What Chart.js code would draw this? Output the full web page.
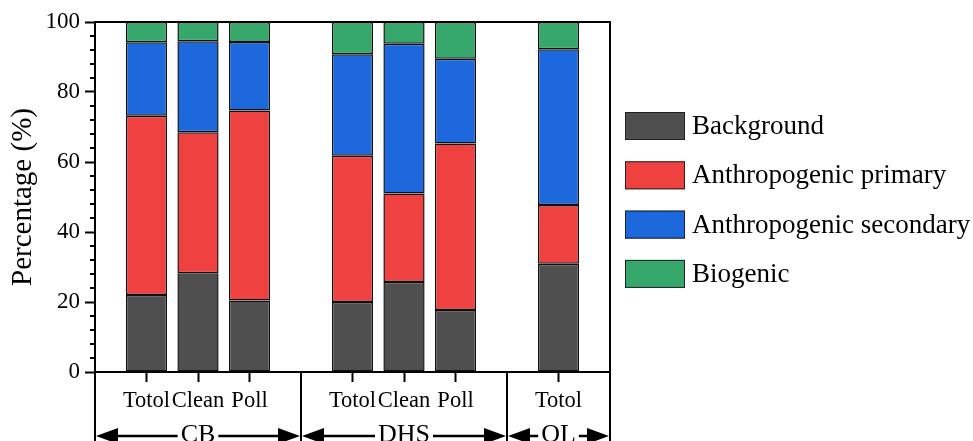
<!DOCTYPE html>
<html>
<head>
<meta charset="utf-8">
<script src="https://cdn.jsdelivr.net/npm/chart.js@4"></script>
<style>
  body { margin: 0; background: #fff; }
  #wrap { width: 973px; height: 441px; }
</style>
</head>
<body>
<div id="wrap"><canvas id="myChart"></canvas></div>
<script>
// groups and their sub-categories
const groupNames = ['CB', 'DHS', 'QL'];
const groupCats = [['Totol', 'Clean', 'Poll'], ['Totol', 'Clean', 'Poll'], ['Totol']];
const seriesNames = ['Background', 'Anthropogenic primary', 'Anthropogenic secondary', 'Biogenic'];

// percentages, one value per bar (CB x3, DHS x3, QL x1)
const background = [22.0, 28.2, 20.4, 20.0, 25.7, 17.7, 30.9];
const primary    = [51.2, 40.3, 54.3, 41.8, 25.3, 47.6, 16.8];
const secondary  = [21.0, 26.0, 19.6, 29.0, 42.8, 24.2, 44.5];
const biogenic   = [5.8, 5.5, 5.7, 9.2, 6.2, 10.5, 7.8];

const yTicks = [0, 20, 40, 60, 80, 100];

const SERIF = "'Liberation Serif', 'Times New Roman', serif";
const colors = ['#4f4f4f', '#f04141', '#1c68dc', '#36a86b'];

// blank slots between groups
const labels = [''];
const groupEdges = [0];
groupCats.forEach(cats => {
  labels.push(...cats, '');
  groupEdges.push(labels.length - 1);
});

function spread(values) {
  let k = 0;
  return labels.map(l => (l === '' ? null : values[k++]));
}

const decor = {
  id: 'decor',
  afterDraw(chart) {
    const { ctx, chartArea: a, scales: { x, y } } = chart;
    ctx.save();
    ctx.strokeStyle = '#000';
    ctx.fillStyle = '#000';
    ctx.lineWidth = 2;

    // top + right frame
    ctx.beginPath();
    ctx.moveTo(a.left, a.top);
    ctx.lineTo(a.right, a.top);
    ctx.lineTo(a.right, chart.height);
    ctx.stroke();

    // group dividers below the axis
    groupEdges.forEach(i => {
      const px = x.getPixelForValue(i);
      ctx.beginPath();
      ctx.moveTo(px, a.bottom);
      ctx.lineTo(px, chart.height);
      ctx.stroke();
    });

    // minor y ticks
    for (let v = 4; v < 100; v += 4) {
      if (v % 20 === 0) continue;
      const py = y.getPixelForValue(v);
      ctx.beginPath();
      ctx.moveTo(a.left - 5, py);
      ctx.lineTo(a.left, py);
      ctx.stroke();
    }

    // group arrows
    ctx.font = '26px ' + SERIF;
    ctx.textAlign = 'center';
    ctx.textBaseline = 'alphabetic';
    const ay = 436;
    groupNames.forEach((name, g) => {
      const x0 = x.getPixelForValue(groupEdges[g]) + 1;
      const x1 = x.getPixelForValue(groupEdges[g + 1]) - 1;
      const mid = (x0 + x1) / 2;
      const half = ctx.measureText(name).width / 2 + 3;
      ctx.lineWidth = 2.5;
      ctx.beginPath();
      ctx.moveTo(x0 + 20, ay); ctx.lineTo(mid - half, ay);
      ctx.moveTo(mid + half, ay); ctx.lineTo(x1 - 20, ay);
      ctx.stroke();
      [[x0, 1], [x1, -1]].forEach(([tip, d]) => {
        ctx.beginPath();
        ctx.moveTo(tip, ay);
        ctx.lineTo(tip + d * 22, ay - 8);
        ctx.lineTo(tip + d * 22, ay + 8);
        ctx.closePath();
        ctx.fill();
      });
      ctx.fillText(name, mid, 442);
    });

    // legend
    ctx.font = '27px ' + SERIF;
    ctx.textAlign = 'left';
    ctx.textBaseline = 'middle';
    ctx.lineWidth = 1;
    chart.data.datasets.forEach((ds, i) => {
      const bx = a.right + 15;
      const by = 112 + i * 49.3;
      ctx.fillStyle = ds.backgroundColor;
      ctx.fillRect(bx, by, 60, 28);
      ctx.strokeStyle = '#222';
      ctx.strokeRect(bx + 0.5, by + 0.5, 59, 27);
      ctx.fillStyle = '#000';
      ctx.fillText(ds.label, bx + 67, by + 15);
    });
    ctx.restore();
  }
};

const seriesData = [background, primary, secondary, biogenic];

new Chart(document.getElementById('myChart'), {
  type: 'bar',
  data: {
    labels: labels,
    datasets: seriesData.map((vals, i) => ({
      label: seriesNames[i],
      data: spread(vals),
      backgroundColor: colors[i],
      borderColor: '#111',
      borderWidth: 1.5,
      borderSkipped: false,
      barPercentage: 0.8,
      categoryPercentage: 1
    }))
  },
  options: {
    responsive: true,
    maintainAspectRatio: false,
    animation: false,
    layout: { padding: { top: 22, right: 363, left: 0, bottom: 0 } },
    plugins: {
      legend: { display: false },
      tooltip: { enabled: false }
    },
    scales: {
      x: {
        stacked: true,
        offset: false,
        afterFit: s => { s.height = 69; },
        grid: {
          offset: false,
          drawOnChartArea: false,
          tickLength: 10,
          tickWidth: 2,
          tickColor: c => (labels[c.index] ? '#000' : 'rgba(0,0,0,0)')
        },
        border: { color: '#000', width: 2 },
        ticks: {
          autoSkip: false,
          maxRotation: 0,
          padding: 6,
          color: '#000',
          font: { family: SERIF, size: 22.5 }
        }
      },
      y: {
        stacked: true,
        min: 0,
        max: 100,
        afterFit: s => { s.width = 95; },
        afterBuildTicks: s => { s.ticks = yTicks.map(v => ({ value: v })); },
        grid: {
          drawOnChartArea: false,
          tickLength: 10,
          tickWidth: 2,
          tickColor: '#000'
        },
        border: { color: '#000', width: 2 },
        ticks: {
          padding: 5,
          color: '#000',
          font: { family: SERIF, size: 23 }
        },
        title: {
          display: true,
          text: 'Percentage (%)',
          color: '#000',
          padding: { top: 6, bottom: 0 },
          font: { family: SERIF, size: 29 }
        }
      }
    }
  },
  plugins: [decor]
});
</script>
</body>
</html>
